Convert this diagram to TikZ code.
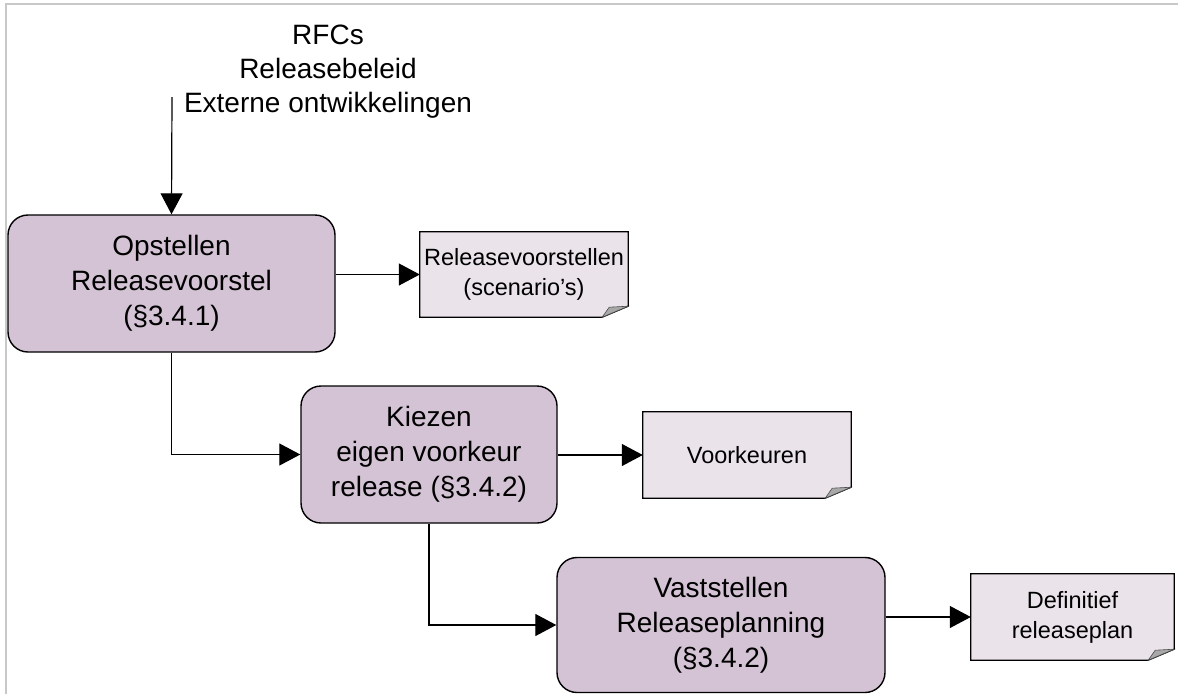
\documentclass[tikz,border=0pt]{standalone}
\usepackage{fontspec}
\setmainfont{Liberation Sans}
\usepackage{tikz}
\usetikzlibrary{arrows.meta,positioning,backgrounds}
\definecolor{procfill}{RGB}{212,195,212}
\definecolor{docfill}{RGB}{234,227,234}
\definecolor{foldgray}{RGB}{168,168,168}
\definecolor{framegray}{RGB}{200,200,200}
% document outline with folded corner, drawn behind the node
\newcommand{\docfold}[1]{%
  \begin{pgfonlayer}{background}
    \filldraw[fill=docfill, draw=black, line width=1.2pt]
      (#1.north west) -- (#1.north east) -- ([yshift=11pt]#1.south east)
      -- ([xshift=-26pt]#1.south east) -- (#1.south west) -- cycle;
    \filldraw[fill=foldgray, draw=black!70, line width=0.6pt]
      ([xshift=-26pt]#1.south east) -- ([yshift=11pt]#1.south east)
      -- ([xshift=-19pt,yshift=10pt]#1.south east) -- cycle;
  \end{pgfonlayer}}

\begin{document}
\begin{tikzpicture}[x=1pt, y=-1pt,
        proc/.style={draw, line width=1.4pt, fill=procfill, rounded corners=20pt,
          inner sep=0pt, align=center, font=\fontsize{28}{35}\selectfont,
          execute at begin node={\rule{0pt}{34pt}}},
        docbox/.style={inner sep=0pt, align=center, font=\fontsize{23.5}{30}\selectfont},
        arrow/.style={-{Triangle[length=21pt, width=22pt]}, line width=1.2pt}
    ]
        \useasboundingbox (0,0) rectangle (1178,694);
        % frame
        \draw[framegray, line width=2pt] (6,694) -- (6,4) -- (1178,4);

        % inputs
        \node[align=center, font=\fontsize{28}{34}\selectfont] (inputs) at (328,72)
            {RFCs\\Releasebeleid\\Externe ontwikkelingen};
        \coordinate (src) at (172,97);

        % processes
        \node[proc, minimum width=327pt, minimum height=137pt] (opstellen) at (171.5,283.5)
            {Opstellen\\Releasevoorstel\\(§3.4.1)};
        \node[proc, minimum width=256pt, minimum height=137pt] (kiezen) at (429,454.5)
            {Kiezen\\eigen voorkeur\\release (§3.4.2)};
        \node[proc, minimum width=328pt, minimum height=135pt] (vaststellen) at (721,625)
            {Vaststellen\\Releaseplanning\\(§3.4.2)};

        % documents
        \node[docbox, minimum width=208pt, minimum height=85pt] (voorstellen) at (524,274.5)
            {Releasevoorstellen\\(scenario's)};
        \node[docbox, minimum width=208pt, minimum height=86pt] (voorkeuren) at (747,455)
            {Voorkeuren};
        \node[docbox, minimum width=203pt, minimum height=86pt] (releaseplan) at (1072.5,617)
            {Definitief\\releaseplan};
        \docfold{voorstellen}
        \docfold{voorkeuren}
        \docfold{releaseplan}

        % flow
        \draw[arrow] (src) -- (opstellen.north);
        \draw[arrow] (opstellen.south) |- (kiezen.west);
        \draw[arrow] (kiezen.south) |- (vaststellen.west);
        \draw[arrow] (opstellen.east |- voorstellen.west) -- (voorstellen.west);
        \draw[arrow] (kiezen.east |- voorkeuren.west) -- (voorkeuren.west);
        \draw[arrow] (vaststellen.east |- releaseplan.west) -- (releaseplan.west);
    \end{tikzpicture}
\end{document}
